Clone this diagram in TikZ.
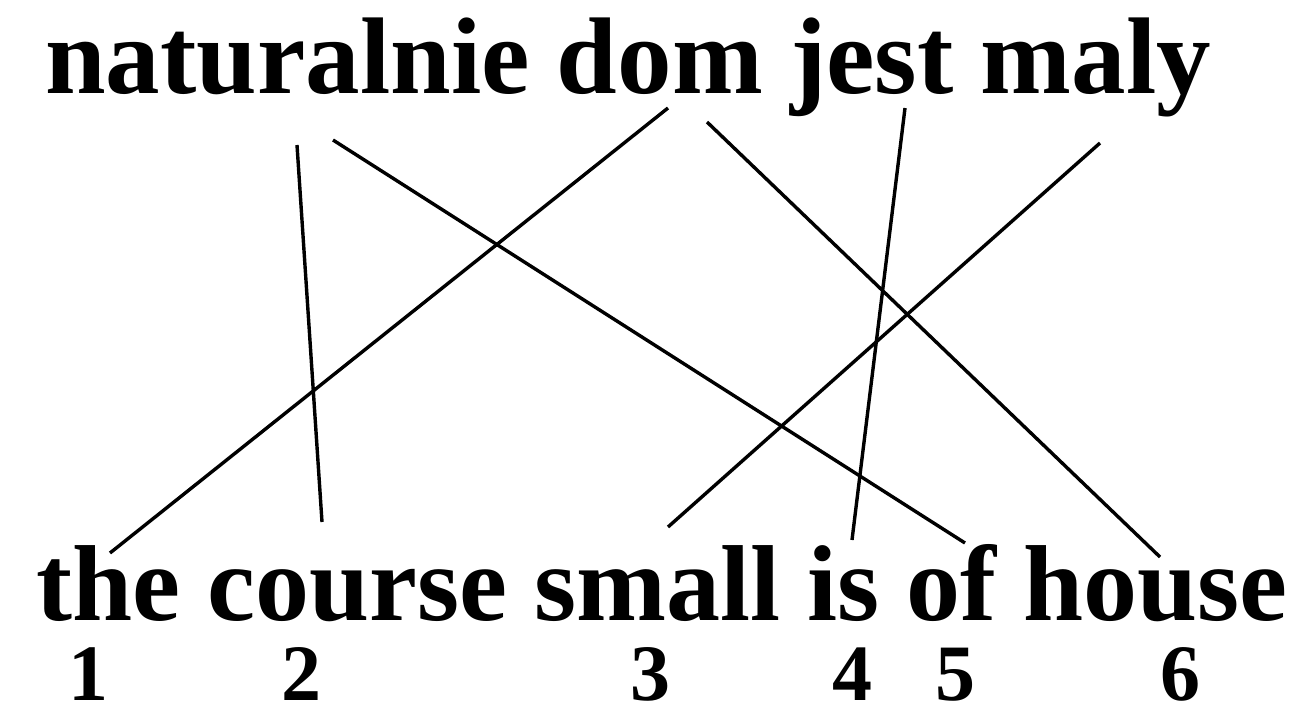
\documentclass[tikz,border=0pt]{standalone}
\usepackage{fontspec}
\setmainfont{Liberation Serif}
\tikzset{
  word/.style={inner sep=0pt, anchor=base west, font=\bfseries\fontsize{109}{120}\selectfont},
  bword/.style={inner sep=0pt, anchor=base west, text depth=0pt, font=\bfseries\fontsize{108}{120}\selectfont},
  num/.style={inner sep=0pt, anchor=base, text depth=0pt, font=\bfseries\fontsize{80}{90}\selectfont},
  link/.style={line width=3.4pt, black}
}
\begin{document}
\begin{tikzpicture}[x=1pt,y=-1pt]
\useasboundingbox (0,0) rectangle (1316,715);
\fill[white] (0,0) rectangle (1316,715);
\node[word] (top) at (45,93) {naturalnie dom jest maly};
\node[bword] (bot) at (36,620) {the course small is of house};
\node[num] (n1) at (88,700) {1};
\node[num] (n2) at (301,700) {2};
\node[num] (n3) at (650,700) {3};
\node[num] (n4) at (852,700) {4};
\node[num] (n5) at (955,700) {5};
\node[num] (n6) at (1180,700) {6};
% endpoints
\coordinate (domA) at (668,108);
\coordinate (the) at (110,553);
\coordinate (natA) at (297,145);
\coordinate (course) at (322,522);
\coordinate (natB) at (333,140);
\coordinate (of) at (965,543);
\coordinate (domB) at (707,122);
\coordinate (house) at (1160,557);
\coordinate (jest) at (905,108);
\coordinate (is) at (852,540);
\coordinate (maly) at (1100,143);
\coordinate (small) at (668,527);
\draw[link] (domA) -- (the);
\draw[link] (natA) -- (course);
\draw[link] (natB) -- (of);
\draw[link] (domB) -- (house);
\draw[link] (jest) -- (is);
\draw[link] (maly) -- (small);
\end{tikzpicture}
\end{document}
